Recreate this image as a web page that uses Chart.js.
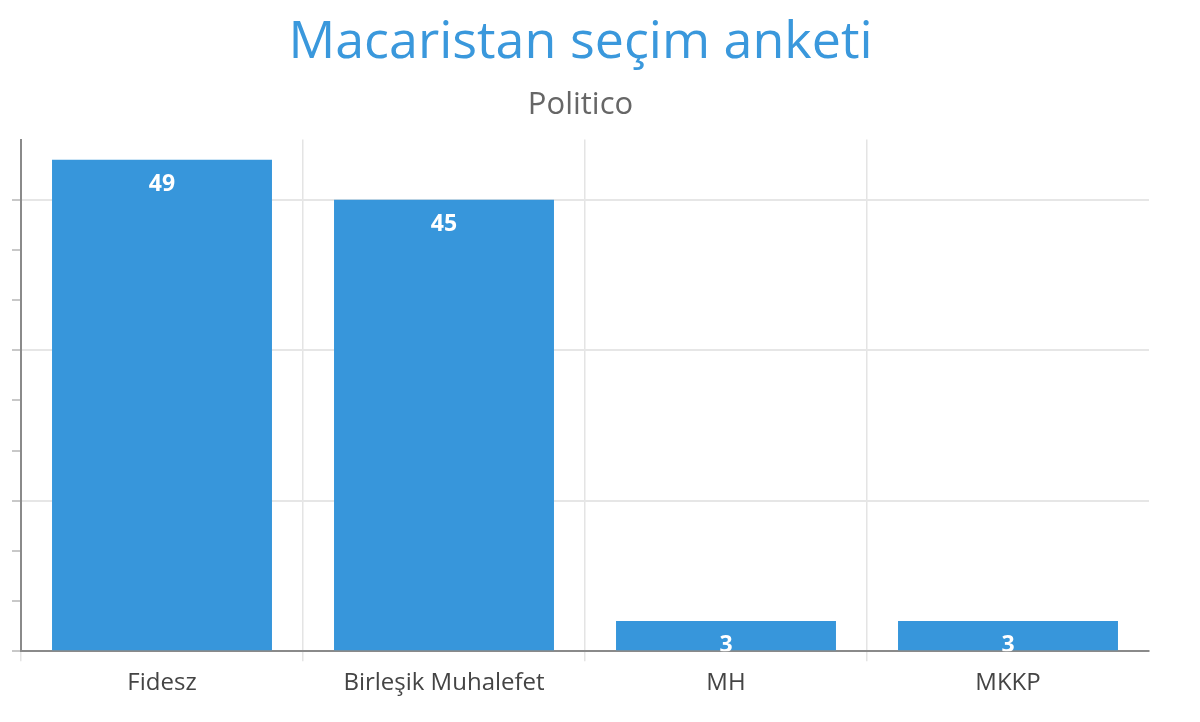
<!DOCTYPE html>
<html>
<head>
<meta charset="utf-8">
<script src="https://cdn.jsdelivr.net/npm/chart.js@4/dist/chart.umd.min.js"></script>
<style>
  html, body { margin: 0; padding: 0; background: #fff; }
  #wrap { width: 1174px; height: 722px; position: relative; }
</style>
</head>
<body>
<div id="wrap"><canvas id="pollChart"></canvas></div>
<script>
// DATA
const parties = ["Fidesz", "Birleşik Muhalefet", "MH", "MKKP"];
const pollValues = [49, 45, 3, 3];
const yMax = 51;
const tickStep = 5;
const gridStep = 15;

// value labels inside the top of each bar
const barLabels = {
  id: "barLabels",
  afterDatasetsDraw(chart) {
    const ctx = chart.ctx;
    const area = chart.chartArea;
    ctx.save();
    ctx.beginPath();
    ctx.rect(area.left, area.top, area.right - area.left, area.bottom - area.top);
    ctx.clip();
    ctx.font = "bold 23px 'Open Sans'";
    ctx.fillStyle = "#ffffff";
    ctx.textAlign = "center";
    ctx.textBaseline = "top";
    chart.getDatasetMeta(0).data.forEach((bar, i) => {
      ctx.fillText(String(pollValues[i]), bar.x, bar.y + 13);
    });
    ctx.restore();
  }
};

const ctx = document.getElementById("pollChart").getContext("2d");
new Chart(ctx, {
  type: "bar",
  data: {
    labels: parties,
    datasets: [{
      data: pollValues,
      backgroundColor: "#3796db",
      barPercentage: 0.78,
      categoryPercentage: 1
    }]
  },
  options: {
    responsive: true,
    maintainAspectRatio: false,
    animation: false,
    layout: { padding: { left: 12, right: 25, top: 3, bottom: 16 } },
    plugins: {
      legend: { display: false },
      tooltip: { enabled: false },
      title: {
        display: true,
        text: "Macaristan seçim anketi",
        color: "#3a98dc",
        font: { family: "'Open Sans'", size: 52, weight: "normal" },
        padding: { top: 9, bottom: 12 }
      },
      subtitle: {
        display: true,
        text: "Politico",
        color: "#666666",
        font: { family: "'Open Sans'", size: 31, weight: "normal" },
        padding: { top: 0, bottom: 16 }
      }
    },
    scales: {
      x: {
        offset: true,
        grid: {
          offset: true,
          color: (c) => c.tick ? "#e4e4e4" : "rgba(0,0,0,0)",
          lineWidth: 1.5,
          tickLength: 10
        },
        border: { color: "#8a8a8a", width: 2 },
        ticks: {
          color: "#444444",
          padding: 8,
          font: { family: "'Open Sans'", size: 24 }
        }
      },
      y: {
        min: 0,
        max: yMax,
        grid: {
          color: (c) => (c.tick && c.tick.value > 0 && c.tick.value % gridStep === 0) ? "#e6e6e6" : "rgba(0,0,0,0)",
          tickColor: (c) => (c.tick && c.tick.value % tickStep === 0) ? "#c8c8c8" : "rgba(0,0,0,0)",
          lineWidth: 2,
          tickLength: 9
        },
        border: { color: "#8a8a8a", width: 2 },
        ticks: { display: false, stepSize: tickStep }
      }
    }
  },
  plugins: [barLabels]
});
</script>
</body>
</html>
